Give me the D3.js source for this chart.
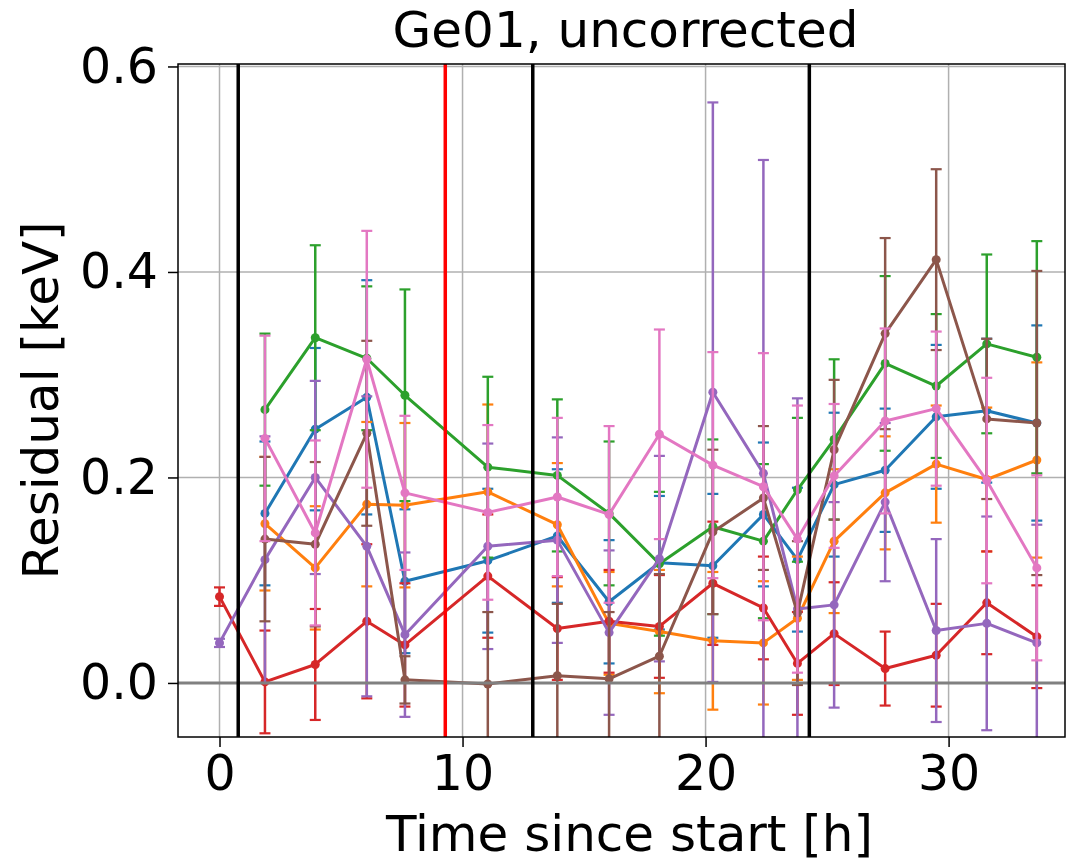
<!DOCTYPE html>
<html>
<head>
<meta charset="utf-8">
<script src="https://cdn.jsdelivr.net/npm/d3@7"></script>
<style>
    body { margin: 0; background: #fff; }
    text { font-family: "DejaVu Sans", sans-serif; }
</style>
</head>
<body>
<div id="chart-area"></div>
<script>
// time of each calibration run [h]
const times = [0, 1.87, 3.94, 6.06, 7.63, 11.04, 13.90, 16.03, 18.10, 20.30, 22.38, 23.78, 25.29, 27.39, 29.49, 31.57, 33.63];

// residuals per peak [keV] (null = no point)
const blueVals = [null, 0.165, 0.247, 0.278, 0.099, 0.119, 0.143, 0.079, 0.117, 0.114, 0.164, 0.120, 0.193, 0.207, 0.259, 0.265, 0.253];
const blueErr = [null, 0.07, 0.079, 0.114, 0.07, 0.07, 0.065, 0.06, 0.065, 0.07, 0.07, 0.07, 0.07, 0.06, 0.07, 0.07, 0.095];
const orangeVals = [null, 0.155, 0.112, 0.174, 0.173, 0.186, 0.154, 0.058, 0.050, 0.041, 0.039, 0.063, 0.138, 0.185, 0.213, 0.198, 0.217];
const orangeErr = [null, 0.065, 0.06, 0.08, 0.08, 0.085, 0.06, 0.05, 0.06, 0.067, 0.06, 0.06, 0.07, 0.055, 0.057, 0.07, 0.095];
const greenVals = [null, 0.266, 0.336, 0.316, 0.280, 0.210, 0.202, 0.165, 0.116, 0.152, 0.138, 0.188, 0.237, 0.311, 0.289, 0.330, 0.317];
const greenErr = [null, 0.074, 0.09, 0.07, 0.103, 0.088, 0.074, 0.07, 0.07, 0.085, 0.075, 0.07, 0.078, 0.085, 0.07, 0.087, 0.113];
const redVals = [0.084, 0.001, 0.018, 0.060, 0.037, 0.104, 0.053, 0.060, 0.055, 0.097, 0.073, 0.019, 0.048, 0.014, 0.027, 0.078, 0.045];
const redErr = [0.009, 0.05, 0.054, 0.075, 0.06, 0.06, 0.05, 0.05, 0.05, 0.06, 0.05, 0.05, 0.05, 0.036, 0.05, 0.05, 0.05];
const purpleVals = [0.039, 0.120, 0.200, 0.133, 0.047, 0.133, 0.139, 0.049, 0.121, 0.283, 0.204, 0.072, 0.076, 0.176, 0.051, 0.058, 0.039];
const purpleErr = [0.004, 0.12, 0.094, 0.146, 0.08, 0.1, 0.1, 0.08, 0.1, 0.282, 0.305, 0.205, 0.1, 0.077, 0.089, 0.104, 0.115];
const brownVals = [null, 0.140, 0.135, 0.243, 0.003, -0.001, 0.007, 0.004, 0.026, 0.147, 0.180, 0.068, 0.227, 0.340, 0.412, 0.257, 0.253];
const brownErr = [null, 0.08, 0.08, 0.09, 0.023, 0.07, 0.07, 0.065, 0.08, 0.08, 0.07, 0.07, 0.068, 0.093, 0.088, 0.078, 0.148];
const pinkVals = [null, 0.238, 0.146, 0.315, 0.185, 0.166, 0.181, 0.164, 0.242, 0.212, 0.191, 0.140, 0.2015, 0.255, 0.267, 0.197, 0.112];
const pinkErr = [null, 0.1, 0.09, 0.125, 0.075, 0.085, 0.077, 0.086, 0.102, 0.11, 0.13, 0.13, 0.07, 0.09, 0.075, 0.1, 0.09];

// markers in time [h]
const blackLines = [0.77, 12.89, 24.27];
const redLines = [9.29];

const xTicks = [0, 10, 20, 30];
const yTicks = [0.0, 0.2, 0.4, 0.6];

const series = [
    {vals: blueVals, err: blueErr, color: "#1f77b4"},
    {vals: orangeVals, err: orangeErr, color: "#ff7f0e"},
    {vals: greenVals, err: greenErr, color: "#2ca02c"},
    {vals: redVals, err: redErr, color: "#d62728"},
    {vals: purpleVals, err: purpleErr, color: "#9467bd"},
    {vals: brownVals, err: brownErr, color: "#8c564b"},
    {vals: pinkVals, err: pinkErr, color: "#e377c2"}
];

const width = 1074, height = 862;
const margin = {top: 64, right: 9, bottom: 125, left: 178};
const w = width - margin.left - margin.right;
const h = height - margin.top - margin.bottom;

const x = d3.scaleLinear().domain([-1.708, 34.79]).range([0, w]);
const y = d3.scaleLinear().domain([-0.0526, 0.6024]).range([h, 0]);

const svg = d3.select("#chart-area").append("svg")
    .attr("width", width)
    .attr("height", height);

const g = svg.append("g")
    .attr("transform", "translate(" + margin.left + "," + margin.top + ")");

g.append("clipPath").attr("id", "clip")
    .append("rect").attr("width", w).attr("height", h);

// grid
g.append("g").selectAll("line")
    .data(xTicks).enter().append("line")
    .attr("x1", d => x(d)).attr("x2", d => x(d))
    .attr("y1", 0).attr("y2", h)
    .attr("stroke", "#b0b0b0").attr("stroke-width", 1.5);
g.append("g").selectAll("line")
    .data(yTicks).enter().append("line")
    .attr("x1", 0).attr("x2", w)
    .attr("y1", d => y(d)).attr("y2", d => y(d))
    .attr("stroke", "#b0b0b0").attr("stroke-width", 1.5);

const plot = g.append("g").attr("clip-path", "url(#clip)");

const line = d3.line()
    .defined(d => d.v !== null)
    .x(d => x(d.t))
    .y(d => y(d.v));

series.forEach(s => {
    const pts = times.map((t, i) => ({t: t, v: s.vals[i], e: s.err[i]}));
    const ok = pts.filter(d => d.v !== null);
    const sg = plot.append("g");

    sg.selectAll(".bar").data(ok).enter().append("line")
        .attr("x1", d => x(d.t)).attr("x2", d => x(d.t))
        .attr("y1", d => y(d.v - d.e)).attr("y2", d => y(d.v + d.e))
        .attr("stroke", s.color).attr("stroke-width", 2.5);

    // caps, top and bottom
    [1, -1].forEach(sign => {
        sg.selectAll(".cap" + sign).data(ok).enter().append("line")
            .attr("x1", d => x(d.t) - 5.5).attr("x2", d => x(d.t) + 5.5)
            .attr("y1", d => y(d.v + sign * d.e)).attr("y2", d => y(d.v + sign * d.e))
            .attr("stroke", s.color).attr("stroke-width", 2.2);
    });

    sg.append("path")
        .datum(pts)
        .attr("d", line)
        .attr("fill", "none")
        .attr("stroke", s.color)
        .attr("stroke-width", 3)
        .attr("stroke-linejoin", "round");

    sg.selectAll("circle").data(ok).enter().append("circle")
        .attr("cx", d => x(d.t)).attr("cy", d => y(d.v))
        .attr("r", 4.5)
        .attr("fill", s.color);
});

// zero line
plot.append("line")
    .attr("x1", 0).attr("x2", w)
    .attr("y1", y(0)).attr("y2", y(0))
    .attr("stroke", "#808080").attr("stroke-width", 3);

plot.selectAll(".vblack").data(blackLines).enter().append("line")
    .attr("x1", d => x(d)).attr("x2", d => x(d))
    .attr("y1", 0).attr("y2", h)
    .attr("stroke", "#000").attr("stroke-width", 3.5);

plot.selectAll(".vred").data(redLines).enter().append("line")
    .attr("x1", d => x(d)).attr("x2", d => x(d))
    .attr("y1", 0).attr("y2", h)
    .attr("stroke", "#ff0000").attr("stroke-width", 3.5);

// axes
const xAxis = g.append("g")
    .attr("transform", "translate(0," + h + ")")
    .call(d3.axisBottom(x).tickValues(xTicks).tickFormat(d3.format("d")).tickSize(10).tickPadding(8));
const yAxis = g.append("g")
    .call(d3.axisLeft(y).tickValues(yTicks).tickFormat(d3.format(".1f")).tickSize(10).tickPadding(10));

[xAxis, yAxis].forEach(a => {
    a.select(".domain").remove();
    a.selectAll(".tick line").attr("stroke", "#000").attr("stroke-width", 1.5);
    a.selectAll(".tick text").attr("font-size", 49).attr("fill", "#000")
        .attr("font-family", "DejaVu Sans");
});

g.append("rect")
    .attr("width", w).attr("height", h)
    .attr("fill", "none").attr("stroke", "#000").attr("stroke-width", 1.5);

// labels
svg.append("text")
    .attr("x", margin.left + w / 2 + 4).attr("y", 47)
    .attr("text-anchor", "middle").attr("font-size", 50)
    .text("Ge01, uncorrected");

svg.append("text")
    .attr("x", margin.left + w / 2 + 8).attr("y", 851)
    .attr("text-anchor", "middle").attr("font-size", 50)
    .text("Time since start [h]");

svg.append("text")
    .attr("transform", "translate(58," + (margin.top + h / 2) + ") rotate(-90)")
    .attr("text-anchor", "middle").attr("font-size", 50)
    .text("Residual [keV]");
</script>
</body>
</html>
